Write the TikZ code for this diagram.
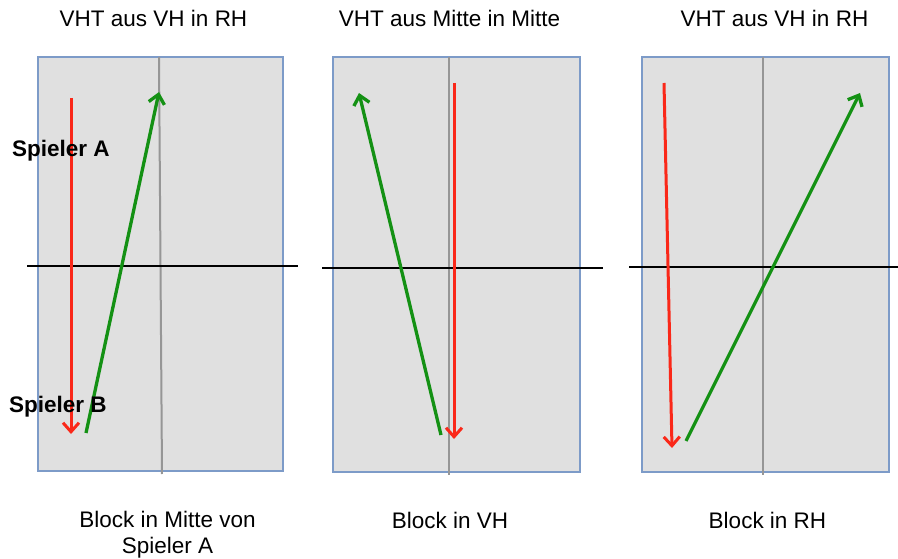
\documentclass[tikz,border=0pt]{standalone}
\usepackage{fontspec}
\setmainfont{Liberation Sans}
\usetikzlibrary{arrows.meta}
\definecolor{panelfill}{RGB}{224,224,224}
\definecolor{panelborder}{RGB}{125,155,200}
\definecolor{netline}{RGB}{150,150,150}
\definecolor{redball}{RGB}{250,40,25}
\definecolor{greenball}{RGB}{20,145,20}
\tikzset{
  panel/.style={fill=panelfill, draw=panelborder, line width=2pt},
  midline/.style={draw=netline, line width=2pt},
  netlinestyle/.style={draw=black, line width=2.4pt},
  redarrow/.style={draw=redball, line width=3pt, -{Straight Barb[length=9pt,width=16pt,line width=3pt]}},
  greenarrow/.style={draw=greenball, line width=3.3pt, -{Straight Barb[length=9pt,width=16pt,line width=3.3pt]}},
  lbl/.style={font=\fontsize{22.5}{26}\selectfont, inner sep=0pt, anchor=base, align=center},
  lbltop/.style={font=\fontsize{22.5}{26}\selectfont, inner sep=0pt, anchor=north, align=center},
  player/.style={font=\bfseries\fontsize{22.5}{26}\selectfont, inner sep=0pt, anchor=base west}
}
\begin{document}
\begin{tikzpicture}[x=1pt,y=-1pt]
\useasboundingbox (0,0) rectangle (898,559);
% panel 1
\draw[panel] (38,57) rectangle (283,471);
\coordinate (m1t) at (159,57); \coordinate (m1b) at (162,474);
\draw[midline] (m1t) -- (m1b);
\coordinate (n1l) at (27,266); \coordinate (n1r) at (298,266);
\draw[netlinestyle] (n1l) -- (n1r);
\coordinate (r1s) at (71,98); \coordinate (r1e) at (71,434);
\draw[redarrow] (r1s) -- (r1e);
\coordinate (g1s) at (86,433); \coordinate (g1e) at (159,92);
\draw[greenarrow] (g1s) -- (g1e);
% panel 2
\draw[panel] (333,57) rectangle (580,472);
\coordinate (m2t) at (449,57); \coordinate (m2b) at (449,475);
\draw[midline] (m2t) -- (m2b);
\coordinate (n2l) at (322,268); \coordinate (n2r) at (603,268);
\draw[netlinestyle] (n2l) -- (n2r);
\coordinate (r2s) at (454,83); \coordinate (r2e) at (454,439);
\draw[redarrow] (r2s) -- (r2e);
\coordinate (g2s) at (441,435); \coordinate (g2e) at (359,93);
\draw[greenarrow] (g2s) -- (g2e);
% panel 3
\draw[panel] (642,57) rectangle (889,472);
\coordinate (m3t) at (763,57); \coordinate (m3b) at (763,475);
\draw[midline] (m3t) -- (m3b);
\coordinate (n3l) at (629,267); \coordinate (n3r) at (898,267);
\draw[netlinestyle] (n3l) -- (n3r);
\coordinate (r3s) at (664,83); \coordinate (r3e) at (672,448);
\draw[redarrow] (r3s) -- (r3e);
\coordinate (g3s) at (686,441); \coordinate (g3e) at (860,93);
\draw[greenarrow] (g3s) -- (g3e);
% titles
\node[lbl] (t1) at (153.5,27) {VHT aus VH in RH};
\node[lbl] (t2) at (449.5,27) {VHT aus Mitte in Mitte};
\node[lbl] (t3) at (774.5,27) {VHT aus VH in RH};
% bottom labels
\node[lbltop] (b1) at (167.5,511) {Block in Mitte von\\Spieler A};
\node[lbl] (b2) at (450,528) {Block in VH};
\node[lbl] (b3) at (767.5,528) {Block in RH};
% players
\node[player] (pa) at (12,157) {Spieler A};
\node[player] (pb) at (9,412) {Spieler B};
\end{tikzpicture}
\end{document}
